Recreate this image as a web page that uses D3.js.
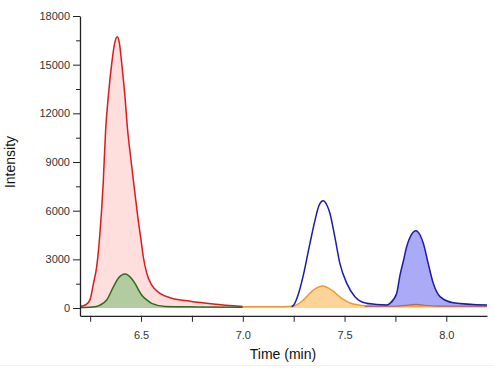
<!DOCTYPE html>
<html>
<head>
<meta charset="utf-8">
<script src="https://cdn.jsdelivr.net/npm/d3@7"></script>
<style>
body { margin: 0; background: #fff; }
svg text { font-family: "Liberation Sans", Arial, sans-serif; }
</style>
</head>
<body>
<svg id="chart" width="494" height="376"></svg>
<script>
// ---- data ----
var redTime = [6.200, 6.229, 6.249, 6.266, 6.282, 6.298, 6.314, 6.326, 6.339, 6.356, 6.370, 6.383, 6.394, 6.405, 6.421, 6.434, 6.448, 6.462, 6.474, 6.486, 6.500, 6.511, 6.528, 6.552, 6.593, 6.651, 6.741, 6.854, 7.000];
var redInt  = [100, 200, 500, 1500, 2550, 4600, 7700, 10970, 13030, 15080, 16300, 16720, 16300, 15080, 13030, 10970, 9400, 7890, 6660, 5420, 4190, 3160, 2140, 1420, 900, 600, 420, 250, 90];

var greenTime = [6.200, 6.274, 6.298, 6.331, 6.364, 6.388, 6.421, 6.454, 6.470, 6.486, 6.503, 6.528, 6.552, 6.618, 6.790, 7.000];
var greenInt  = [30, 80, 180, 490, 1300, 1830, 2090, 1800, 1520, 1150, 800, 500, 290, 100, 70, 40];

var orangeTime = [7.000, 7.200, 7.250, 7.297, 7.346, 7.370, 7.393, 7.414, 7.437, 7.486, 7.543, 7.625, 7.900, 8.200];
var orangeInt  = [80, 80, 120, 490, 1100, 1280, 1350, 1270, 1100, 600, 250, 130, 120, 120];

var blueTime = [7.240, 7.248, 7.274, 7.297, 7.330, 7.355, 7.374, 7.395, 7.413, 7.428, 7.452, 7.477, 7.511, 7.551, 7.609, 7.707, 7.723, 7.756, 7.772, 7.789, 7.805, 7.827, 7.851, 7.871, 7.887, 7.911, 7.936, 7.969, 8.034, 8.200];
var blueInt  = [80, 150, 900, 2000, 3990, 5420, 6300, 6610, 6350, 5840, 4400, 2750, 1520, 700, 290, 185, 290, 900, 2000, 2900, 3780, 4500, 4770, 4500, 3990, 2750, 1520, 700, 330, 185];

var brownTime = [7.600, 7.750, 7.820, 7.850, 7.880, 7.950, 8.200];
var brownInt  = [100, 110, 190, 230, 190, 120, 100];

var yMajor = [0, 3000, 6000, 9000, 12000, 15000, 18000];
var yMinor = [1500, 4500, 7500, 10500, 13500, 16500];
var xMajor = [6.5, 7.0, 7.5, 8.0];
var xMinor = [6.25, 6.75, 7.25, 7.75];

var blueFillFrom = 7.6;

// ---- scales ----
var svg = d3.select("#chart");
var xs = d3.scaleLinear().domain([6.2, 8.2]).range([80, 487]);
var ys = d3.scaleLinear().domain([-480, 18000]).range([315.8, 16]);

function zipSeries(t, v) {
    return t.map(function(d, i) { return {t: d, v: v[i]}; });
}
var red = zipSeries(redTime, redInt);
var green = zipSeries(greenTime, greenInt);
var orange = zipSeries(orangeTime, orangeInt);
var blue = zipSeries(blueTime, blueInt);
var brown = zipSeries(brownTime, brownInt);

var line = d3.line()
    .x(function(d) { return xs(d.t); })
    .y(function(d) { return ys(d.v); })
    .curve(d3.curveMonotoneX);
var area = d3.area()
    .x(function(d) { return xs(d.t); })
    .y0(ys(0))
    .y1(function(d) { return ys(d.v); })
    .curve(d3.curveMonotoneX);

// faint separator near the bottom
svg.append("line")
    .attr("x1", 0).attr("x2", 494)
    .attr("y1", 365.5).attr("y2", 365.5)
    .attr("stroke", "#f0f0f0");

var plot = svg.append("g");

// red + green peaks
plot.append("path").datum(red).attr("d", area).attr("fill", "#ffdede");
plot.append("path").datum(red).attr("d", line)
    .attr("fill", "none").attr("stroke", "#d91c1c").attr("stroke-width", 1.5);
plot.append("path").datum(green).attr("d", area).attr("fill", "#b3cba0");
plot.append("path").datum(green).attr("d", line)
    .attr("fill", "none").attr("stroke", "#2c6e1c").attr("stroke-width", 1.5);

// blue fill only under the second peak
plot.append("path").datum(blue.filter(function(d) { return d.t >= blueFillFrom; }))
    .attr("d", area).attr("fill", "#aaaaf7");

// orange
plot.append("path").datum(orange).attr("d", area).attr("fill", "#fcd49a");
plot.append("path").datum(orange).attr("d", line)
    .attr("fill", "none").attr("stroke", "#f09a2a").attr("stroke-width", 1.5);

plot.append("path").datum(brown).attr("d", line)
    .attr("fill", "none").attr("stroke", "#b86a5c").attr("stroke-width", 1.2);

plot.append("path").datum(blue).attr("d", line)
    .attr("fill", "none").attr("stroke", "#1c1ca8").attr("stroke-width", 1.5);

// ---- axes ----
var yAxis = svg.append("g")
    .attr("transform", "translate(80,0)")
    .call(d3.axisLeft(ys).tickValues(yMajor).tickSize(7).tickSizeOuter(0).tickPadding(3).tickFormat(d3.format("d")));
svg.append("g")
    .attr("transform", "translate(80,0)")
    .call(d3.axisLeft(ys).tickValues(yMinor).tickSize(4).tickSizeOuter(0).tickFormat(""))
    .select(".domain").remove();

var xAxis = svg.append("g")
    .attr("transform", "translate(0,315.8)")
    .call(d3.axisBottom(xs).tickValues(xMajor).tickSize(6).tickSizeOuter(0).tickPadding(9).tickFormat(d3.format(".1f")));
svg.append("g")
    .attr("transform", "translate(0,315.8)")
    .call(d3.axisBottom(xs).tickValues(xMinor).tickSize(6).tickSizeOuter(0).tickFormat(""))
    .select(".domain").remove();

svg.selectAll(".domain").attr("stroke", "#222").attr("stroke-width", 1.3);
svg.selectAll(".tick line").attr("stroke", "#222");
svg.selectAll(".tick text")
    .attr("font-family", "Liberation Sans, Arial, sans-serif")
    .attr("font-size", 11)
    .attr("fill", "#333");

// ---- axis titles ----
svg.append("text")
    .attr("x", 283).attr("y", 359)
    .attr("text-anchor", "middle")
    .attr("font-size", 14)
    .attr("fill", "#111")
    .text("Time (min)");

svg.append("text")
    .attr("transform", "translate(15,162) rotate(-90)")
    .attr("text-anchor", "middle")
    .attr("font-size", 14)
    .attr("fill", "#111")
    .text("Intensity");
</script>
</body>
</html>
